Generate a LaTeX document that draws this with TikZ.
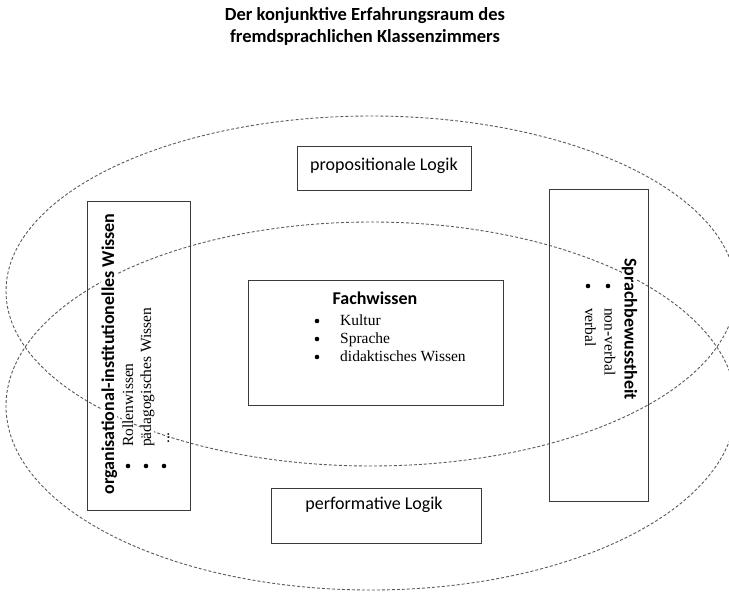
\documentclass[tikz,border=0pt]{standalone}
\usepackage{fontspec}
\setmainfont{Liberation Serif}
\newfontfamily\calib{Carlito}
\definecolor{boxgray}{HTML}{3A3A3A}
\definecolor{ellgray}{HTML}{5A5A5A}
\begin{document}
\begin{tikzpicture}[x=1pt,y=-1pt,
  box/.style={draw=boxgray, line width=1.1pt, rectangle, inner sep=0pt, anchor=north west},
  ell/.style={draw=ellgray, line width=0.9pt, dash pattern=on 3pt off 2pt},
  sanslbl/.style={font=\calib\fontsize{18}{22}\selectfont, inner sep=0pt},
  sansbold/.style={font=\calib\bfseries\fontsize{18}{22}\selectfont, inner sep=0pt},
  titlestyle/.style={font=\calib\bfseries\fontsize{18.5}{22}\selectfont, inner sep=0pt, align=center},
  itm/.style={font=\fontsize{15.5}{18}\selectfont, inner sep=0pt},
  dot/.style={circle, fill=black, inner sep=0pt, minimum size=4.6pt}
]
\useasboundingbox (0,0) rectangle (729,594);
\clip (0,0) rectangle (729,594);
\fill[white] (0,0) rectangle (729,594);

% title
\node[titlestyle, anchor=north] (title) at (365,7) {Der konjunktive Erfahrungsraum des\\fremdsprachlichen Klassenzimmers};

% ellipses
\draw[ell] (371,291) ellipse [x radius=365pt, y radius=175pt];
\draw[ell] (371,406) ellipse [x radius=365pt, y radius=184pt];

% boxes
\node[box, minimum width=174pt, minimum height=44pt] (prop) at (297,146) {};
\node[box, minimum width=255pt, minimum height=125pt] (fach) at (248,280) {};
\node[box, minimum width=210pt, minimum height=55pt] (perf) at (271,488) {};
\node[box, minimum width=103pt, minimum height=309pt] (orga) at (87,201) {};
\node[box, minimum width=99pt, minimum height=312pt] (sprach) at (549,189) {};

% texts
\node[sanslbl] (proptxt) at (384,166) {propositionale Logik};
\node[sanslbl] (perftxt) at (374,505) {performative Logik};

\node[sansbold, anchor=base] (fachtitle) at (375,304) {Fachwissen};
\node[dot] (fb1) at (317,321) {};
\node[dot] (fb2) at (317,339) {};
\node[dot] (fb3) at (317,357) {};
\node[itm, anchor=base west] (fi1) at (340,325) {Kultur};
\node[itm, anchor=base west] (fi2) at (340,343) {Sprache};
\node[itm, anchor=base west] (fi3) at (340,361) {didaktisches Wissen};

% left rotated box
\node[sansbold, rotate=90, anchor=base, fill=white] (orgtitle) at (114,354) {organisational-institutionelles Wissen};
\node[dot] (ob1) at (128,466) {};
\node[dot] (ob2) at (146,466) {};
\node[dot] (ob3) at (164,466) {};
\node[itm, rotate=90, anchor=base west, fill=white] (oi1) at (133,447) {Rollenwissen};
\node[itm, rotate=90, anchor=base west, fill=white] (oi2) at (151,447) {pädagogisches Wissen};
\node[itm, rotate=90, anchor=base west, fill=white] (oi3) at (169,444) {...};

% right rotated box
\node[sansbold, rotate=-90, anchor=base west, fill=white] (sprtitle) at (624.5,258) {Sprachbewusstheit};
\node[dot] (sb1) at (608,286) {};
\node[dot] (sb2) at (588,286) {};
\node[itm, rotate=-90, anchor=base west] (si1) at (604.5,308) {non-verbal};
\node[itm, rotate=-90, anchor=base west] (si2) at (585,308) {verbal};
\end{tikzpicture}
\end{document}
